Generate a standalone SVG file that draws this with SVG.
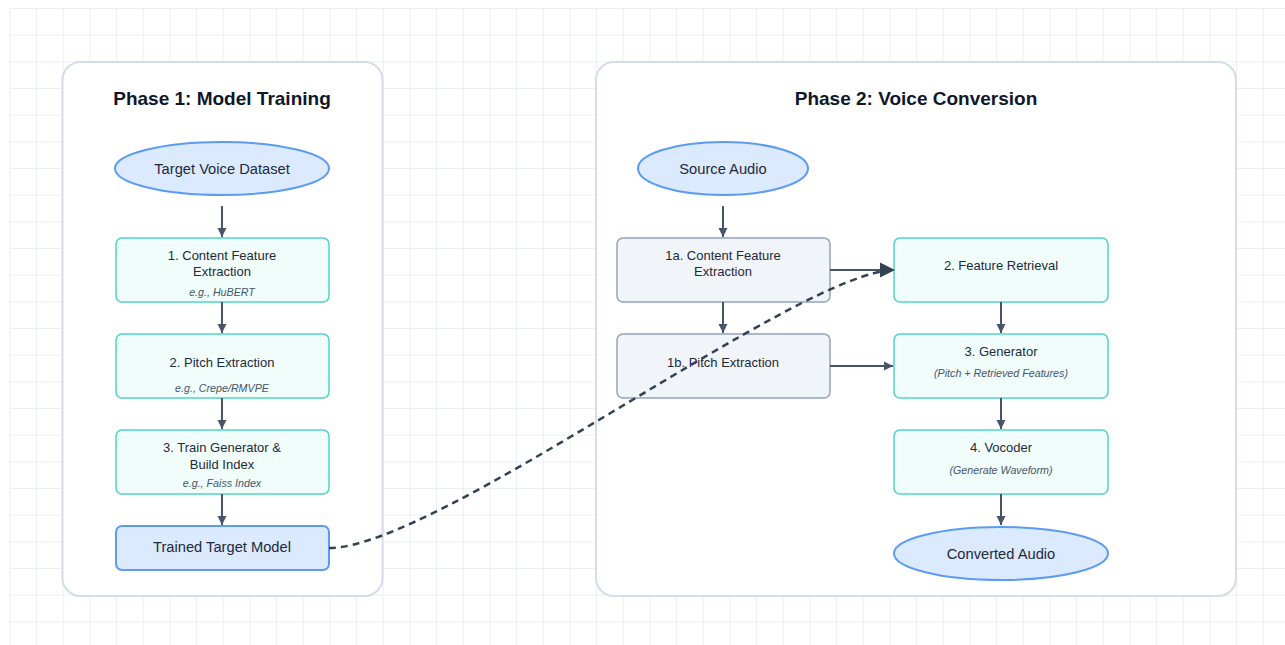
<svg xmlns="http://www.w3.org/2000/svg" width="1285" height="645" viewBox="0 0 1285 645">
  <style>
    .panel { fill: #ffffff; stroke: #d3dce9; stroke-width: 2; }
    .title { font-family: "Liberation Sans", Arial, sans-serif; font-size: 19px; font-weight: bold; fill: #0f172a; text-anchor: middle; }
    .io { fill: #dbeafe; stroke: #5b9cf0; stroke-width: 2; }
    .step { fill: #f0fdfa; stroke: #4ed6c3; stroke-width: 1.5; }
    .src { fill: #f1f5f9; stroke: #94a3b8; stroke-width: 1.5; }
    .lbl { font-family: "Liberation Sans", Arial, sans-serif; font-size: 13px; fill: #1e293b; text-anchor: middle; }
    .big { font-family: "Liberation Sans", Arial, sans-serif; font-size: 14.7px; fill: #1e293b; text-anchor: middle; }
    .sub { font-family: "Liberation Sans", Arial, sans-serif; font-size: 10.7px; font-style: italic; fill: #475569; text-anchor: middle; }
    .edge { fill: none; stroke: #475569; stroke-width: 2; }
    .dash { fill: none; stroke: #334155; stroke-width: 2.5; stroke-dasharray: 7 5; }
  </style>
  <defs>
    <pattern id="grid" patternUnits="userSpaceOnUse" x="9.33" y="8" width="26.667" height="26.667">
      <path d="M0 0.5 H26.667 M0.5 0 V26.667" fill="none" stroke="#eceff3" stroke-width="1"/>
    </pattern>
    <marker id="arr" markerUnits="userSpaceOnUse" markerWidth="10" markerHeight="10" refX="9" refY="5" orient="auto">
      <path d="M0 0.5 L9 5 L0 9.5 Z" fill="#475569"/>
    </marker>
    <marker id="arrBig" markerUnits="userSpaceOnUse" markerWidth="17" markerHeight="17" refX="15" refY="8.5" orient="auto">
      <path d="M0 1 L15 8.5 L0 16 Z" fill="#334155"/>
    </marker>
  </defs>

  <!-- canvas background with grid -->
  <rect x="0" y="0" width="1285" height="645" fill="#ffffff"/>
  <rect x="9" y="8" width="1276" height="637" fill="url(#grid)"/>

  <!-- phase containers -->
  <g id="phase1">
    <rect class="panel" x="62.5" y="62" width="320" height="534" rx="18"/>
    <text class="title" x="222" y="105">Phase 1: Model Training</text>
  </g>
  <g id="phase2">
    <rect class="panel" x="596" y="62" width="640" height="534" rx="18"/>
    <text class="title" x="916" y="105">Phase 2: Voice Conversion</text>
  </g>

  <!-- phase 1 nodes -->
  <g id="target-voice-dataset">
    <ellipse class="io" cx="222" cy="168.5" rx="107" ry="26.5"/>
    <text class="big" x="222" y="174.3">Target Voice Dataset</text>
  </g>
  <g id="p1-content-feature">
    <rect class="step" x="116" y="238" width="213" height="64" rx="6"/>
    <text class="lbl" x="222" y="260.3">1. Content Feature</text>
    <text class="lbl" x="222" y="276.3">Extraction</text>
    <text class="sub" x="222" y="295.5">e.g., HuBERT</text>
  </g>
  <g id="p1-pitch">
    <rect class="step" x="116" y="334" width="213" height="64" rx="6"/>
    <text class="lbl" x="222" y="366.9">2. Pitch Extraction</text>
    <text class="sub" x="222" y="391.5">e.g., Crepe/RMVPE</text>
  </g>
  <g id="p1-train">
    <rect class="step" x="116" y="430" width="213" height="64" rx="6"/>
    <text class="lbl" x="222" y="452.3">3. Train Generator &amp;</text>
    <text class="lbl" x="222" y="468.6">Build Index</text>
    <text class="sub" x="222" y="487.1">e.g., Faiss Index</text>
  </g>
  <g id="trained-target-model">
    <rect class="io" x="116" y="526" width="213" height="44" rx="6"/>
    <text class="big" x="222" y="551.8">Trained Target Model</text>
  </g>

  <!-- phase 2 nodes -->
  <g id="source-audio">
    <ellipse class="io" cx="723" cy="168.5" rx="85" ry="26.5"/>
    <text class="big" x="723" y="174.3">Source Audio</text>
  </g>
  <g id="p2-content-feature">
    <rect class="src" x="617" y="238" width="213" height="64" rx="6"/>
    <text class="lbl" x="723" y="260.3">1a. Content Feature</text>
    <text class="lbl" x="723" y="276.3">Extraction</text>
  </g>
  <g id="p2-pitch">
    <rect class="src" x="617" y="334" width="213" height="64" rx="6"/>
    <text class="lbl" x="723" y="366.9">1b. Pitch Extraction</text>
  </g>
  <g id="feature-retrieval">
    <rect class="step" x="894" y="238" width="214" height="64" rx="6"/>
    <text class="lbl" x="1001" y="270">2. Feature Retrieval</text>
  </g>
  <g id="generator">
    <rect class="step" x="894" y="334" width="214" height="64" rx="6"/>
    <text class="lbl" x="1001" y="356.3">3. Generator</text>
    <text class="sub" x="1001" y="377.1">(Pitch + Retrieved Features)</text>
  </g>
  <g id="vocoder">
    <rect class="step" x="894" y="430" width="214" height="64" rx="6"/>
    <text class="lbl" x="1001" y="451.9">4. Vocoder</text>
    <text class="sub" x="1001" y="473.8">(Generate Waveform)</text>
  </g>
  <g id="converted-audio">
    <ellipse class="io" cx="1001" cy="553.5" rx="107" ry="26.5"/>
    <text class="big" x="1001" y="558.6">Converted Audio</text>
  </g>

  <!-- connectors, drawn above the nodes -->
  <g id="connectors">
    <line class="edge" x1="222" y1="206" x2="222" y2="237" marker-end="url(#arr)"/>
    <line class="edge" x1="222" y1="302" x2="222" y2="333" marker-end="url(#arr)"/>
    <line class="edge" x1="222" y1="398" x2="222" y2="429" marker-end="url(#arr)"/>
    <line class="edge" x1="222" y1="494" x2="222" y2="525" marker-end="url(#arr)"/>

    <line class="edge" x1="723" y1="206" x2="723" y2="237" marker-end="url(#arr)"/>
    <line class="edge" x1="723" y1="302" x2="723" y2="333" marker-end="url(#arr)"/>
    <line class="edge" x1="830" y1="270" x2="893" y2="270" marker-end="url(#arr)"/>
    <line class="edge" x1="830" y1="366" x2="893" y2="366" marker-end="url(#arr)"/>

    <line class="edge" x1="1001" y1="302" x2="1001" y2="333" marker-end="url(#arr)"/>
    <line class="edge" x1="1001" y1="398" x2="1001" y2="429" marker-end="url(#arr)"/>
    <line class="edge" x1="1001" y1="494" x2="1001" y2="525" marker-end="url(#arr)"/>

    <!-- trained model feeds the retrieval index -->
    <path class="dash" d="M329 548 C438 548 800 270 895 270" marker-end="url(#arrBig)"/>
  </g>
</svg>
